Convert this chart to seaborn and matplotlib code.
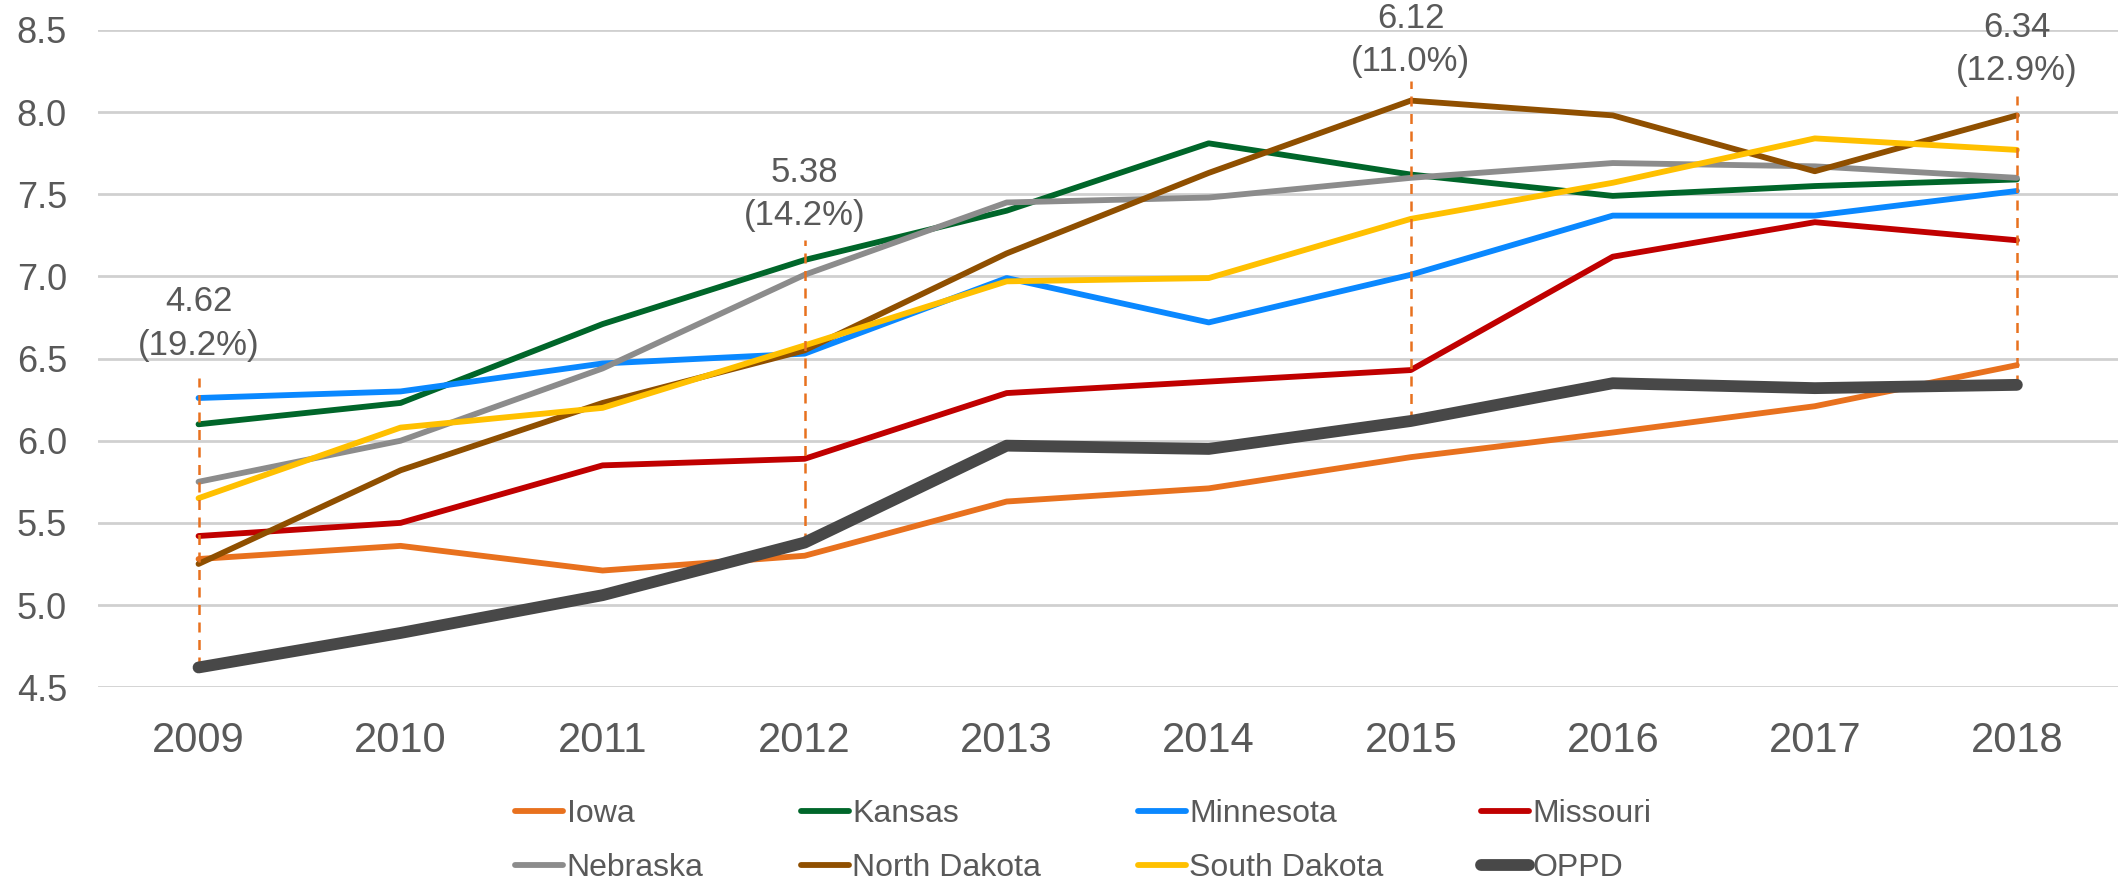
import pandas as pd
import numpy as np
import matplotlib
matplotlib.use("Agg")
import matplotlib.pyplot as plt
import seaborn as sns

# Datos
years = [2009, 2010, 2011, 2012, 2013, 2014, 2015, 2016, 2017, 2018]
iowa = [5.28, 5.36, 5.21, 5.30, 5.63, 5.71, 5.90, 6.05, 6.21, 6.46]
kansas = [6.10, 6.23, 6.71, 7.10, 7.40, 7.81, 7.62, 7.49, 7.55, 7.59]
minnesota = [6.26, 6.30, 6.47, 6.53, 6.99, 6.72, 7.01, 7.37, 7.37, 7.52]
missouri = [5.42, 5.50, 5.85, 5.89, 6.29, 6.36, 6.43, 7.12, 7.33, 7.22]
nebraska = [5.75, 6.00, 6.44, 7.01, 7.45, 7.48, 7.60, 7.69, 7.67, 7.60]
north_dakota = [5.25, 5.82, 6.23, 6.55, 7.14, 7.63, 8.07, 7.98, 7.64, 7.98]
south_dakota = [5.65, 6.08, 6.20, 6.58, 6.97, 6.99, 7.35, 7.57, 7.84, 7.77]
oppd = [4.62, 4.83, 5.06, 5.38, 5.97, 5.95, 6.12, 6.35, 6.32, 6.34]

series = {
    "Iowa": iowa,
    "Kansas": kansas,
    "Minnesota": minnesota,
    "Missouri": missouri,
    "Nebraska": nebraska,
    "North Dakota": north_dakota,
    "South Dakota": south_dakota,
    "OPPD": oppd,
}

colores = {
    "Iowa": "#E8711E",
    "Kansas": "#00662A",
    "Minnesota": "#0A88FF",
    "Missouri": "#C00000",
    "Nebraska": "#8C8C8C",
    "North Dakota": "#8F4F00",
    "South Dakota": "#FFC000",
    "OPPD": "#484848",
}

# Anotaciones sobre OPPD
anot_years = [2009, 2012, 2015, 2018]
anot_pct = ["(19.2%)", "(14.2%)", "(11.0%)", "(12.9%)"]
anot_dy = [12, 6, 2, 6]  # separacion del texto en puntos

# Armar DataFrame largo
df = pd.DataFrame(series, index=years)
df.index.name = "year"
largo = df.reset_index().melt(id_vars="year", var_name="state", value_name="value")

sns.set_theme(style="white")
plt.rcParams["font.family"] = ["Liberation Sans", "DejaVu Sans"]
gris = "#595959"

fig = plt.figure(figsize=(21.2, 8.81), dpi=100)
ax = fig.add_axes([0.046, 0.220, 0.953, 0.746])

for state in series:
    sns.lineplot(data=largo[largo["state"] == state], x="year", y="value",
                 color=colores[state], linewidth=8.5 if state == "OPPD" else 4.2,
                 label=state, ax=ax, legend=False,
                 zorder=4 if state == "OPPD" else 2)

# Lineas punteadas verticales y etiquetas
for yr, pct, dy in zip(anot_years, anot_pct, anot_dy):
    base = df.loc[yr, "OPPD"]
    tope = df.loc[yr].max() + 0.12
    ax.plot([yr, yr], [base, tope], color="#E8711E", linewidth=1.8,
            linestyle=(0, (4, 3)), zorder=3)
    ax.annotate(f"{base:.2f}\n{pct}", xy=(yr, tope), xytext=(0, dy),
                textcoords="offset points", ha="center", va="bottom",
                fontsize=25, color=gris, linespacing=1.4,
                annotation_clip=False)

ax.set_xlim(2008.5, 2018.5)
ax.set_ylim(4.5, 8.5)
ax.set_xticks(years)
ax.set_xticklabels([str(y) for y in years])
ax.set_yticks(np.arange(4.5, 8.51, 0.5))
ax.set_yticklabels([f"{v:.1f}" for v in np.arange(4.5, 8.51, 0.5)])
ax.tick_params(axis="x", labelsize=30, colors=gris, pad=24, length=0)
ax.tick_params(axis="y", labelsize=26, colors=gris, pad=22, length=0)
ax.set_xlabel("")
ax.set_ylabel("")
ax.grid(axis="y", color="#D0D0D0", linewidth=2)
ax.set_axisbelow(True)
for s in ax.spines.values():
    s.set_visible(False)

# Leyenda en dos filas (orden por filas)
handles, labels = ax.get_legend_handles_labels()
orden = ["Iowa", "Nebraska", "Kansas", "North Dakota",
         "Minnesota", "South Dakota", "Missouri", "OPPD"]
h = [handles[labels.index(n)] for n in orden]
leg = fig.legend(h, orden, loc="center", bbox_to_anchor=(0.511, 0.045),
                 ncol=4, frameon=False, fontsize=23, handlelength=1.5,
                 handletextpad=0.1, columnspacing=3.05, labelspacing=0.75)
for t in leg.get_texts():
    t.set_color(gris)

fig.savefig("out.png", dpi=100)
